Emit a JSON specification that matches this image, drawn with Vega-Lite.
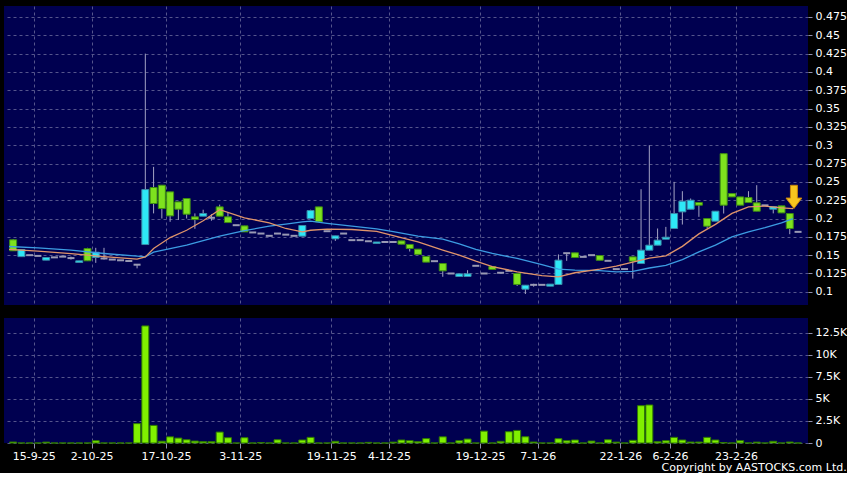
{
  "$schema": "https://vega.github.io/schema/vega-lite/v6.json",
  "background": "#000000",
  "padding": {"left": 4, "top": 6, "right": 0, "bottom": 0},
  "config": {
    "view": {"fill": "#000050", "stroke": null},
    "font": "DejaVu Sans",
    "axis": {"labelColor": "#ffffff", "labelFontSize": 11, "domain": false, "gridColor": "#55558c", "gridDash": [3, 3], "gridWidth": 1, "tickColor": "#9090b0", "labelOverlap": false}
  },
  "title": {"text": "Copyright by AASTOCKS.com Ltd.", "orient": "bottom", "anchor": "end", "color": "#ffffff", "fontSize": 11, "fontWeight": "normal", "offset": 1},
  "spacing": 13,
  "datasets": {
    "candles": [
      {"i": 0, "o": 0.171, "h": 0.172, "l": 0.156, "c": 0.156, "v": 110},
      {"i": 1, "o": 0.148, "h": 0.1577, "l": 0.148, "c": 0.1577, "v": 0},
      {"i": 2, "o": 0.15, "h": 0.15, "l": 0.15, "c": 0.15, "v": 0},
      {"i": 3, "o": 0.149, "h": 0.149, "l": 0.149, "c": 0.149, "v": 0},
      {"i": 4, "o": 0.1432, "h": 0.1468, "l": 0.1432, "c": 0.1468, "v": 100},
      {"i": 5, "o": 0.147, "h": 0.147, "l": 0.147, "c": 0.147, "v": 0},
      {"i": 6, "o": 0.148, "h": 0.148, "l": 0.148, "c": 0.148, "v": 0},
      {"i": 7, "o": 0.146, "h": 0.148, "l": 0.144, "c": 0.146, "v": 0},
      {"i": 8, "o": 0.14, "h": 0.1423, "l": 0.14, "c": 0.1423, "v": 0},
      {"i": 9, "o": 0.159, "h": 0.16, "l": 0.1423, "c": 0.1423, "v": 0},
      {"i": 10, "o": 0.1468, "h": 0.16, "l": 0.1395, "c": 0.154, "v": 260},
      {"i": 11, "o": 0.1455, "h": 0.16, "l": 0.144, "c": 0.1455, "v": 0},
      {"i": 12, "o": 0.144, "h": 0.144, "l": 0.144, "c": 0.144, "v": 0},
      {"i": 13, "o": 0.143, "h": 0.143, "l": 0.143, "c": 0.143, "v": 0},
      {"i": 14, "o": 0.142, "h": 0.142, "l": 0.142, "c": 0.142, "v": 0},
      {"i": 15, "o": 0.137, "h": 0.137, "l": 0.132, "c": 0.137, "v": 2200},
      {"i": 16, "o": 0.1645, "h": 0.425, "l": 0.1645, "c": 0.2395, "v": 13300},
      {"i": 17, "o": 0.2423, "h": 0.2705, "l": 0.207, "c": 0.2205, "v": 2000},
      {"i": 18, "o": 0.2455, "h": 0.2455, "l": 0.2, "c": 0.2136, "v": 200},
      {"i": 19, "o": 0.2364, "h": 0.2364, "l": 0.1955, "c": 0.2036, "v": 700},
      {"i": 20, "o": 0.2227, "h": 0.2227, "l": 0.198, "c": 0.2127, "v": 560},
      {"i": 21, "o": 0.2273, "h": 0.2273, "l": 0.2, "c": 0.2059, "v": 370},
      {"i": 22, "o": 0.2023, "h": 0.207, "l": 0.186, "c": 0.1986, "v": 220},
      {"i": 23, "o": 0.2032, "h": 0.212, "l": 0.2032, "c": 0.2068, "v": 150},
      {"i": 24, "o": 0.201, "h": 0.206, "l": 0.197, "c": 0.201, "v": 150},
      {"i": 25, "o": 0.2159, "h": 0.219, "l": 0.2032, "c": 0.2032, "v": 1240},
      {"i": 26, "o": 0.2023, "h": 0.209, "l": 0.1945, "c": 0.1945, "v": 600},
      {"i": 27, "o": 0.1909, "h": 0.1909, "l": 0.1909, "c": 0.1909, "v": 0},
      {"i": 28, "o": 0.19, "h": 0.19, "l": 0.1818, "c": 0.1818, "v": 600},
      {"i": 29, "o": 0.181, "h": 0.181, "l": 0.181, "c": 0.181, "v": 0},
      {"i": 30, "o": 0.1795, "h": 0.1795, "l": 0.1795, "c": 0.1795, "v": 40},
      {"i": 31, "o": 0.1764, "h": 0.1764, "l": 0.1764, "c": 0.1764, "v": 0},
      {"i": 32, "o": 0.1795, "h": 0.1795, "l": 0.1795, "c": 0.1795, "v": 370},
      {"i": 33, "o": 0.178, "h": 0.178, "l": 0.178, "c": 0.178, "v": 0},
      {"i": 34, "o": 0.1764, "h": 0.1764, "l": 0.1764, "c": 0.1764, "v": 0},
      {"i": 35, "o": 0.1759, "h": 0.1905, "l": 0.1759, "c": 0.1905, "v": 340},
      {"i": 36, "o": 0.2, "h": 0.212, "l": 0.2, "c": 0.2109, "v": 640},
      {"i": 37, "o": 0.2159, "h": 0.2159, "l": 0.1955, "c": 0.1955, "v": 0},
      {"i": 38, "o": 0.1827, "h": 0.1827, "l": 0.1827, "c": 0.1827, "v": 0},
      {"i": 39, "o": 0.1723, "h": 0.1764, "l": 0.1695, "c": 0.1764, "v": 190},
      {"i": 40, "o": 0.1795, "h": 0.1795, "l": 0.1795, "c": 0.1795, "v": 0},
      {"i": 41, "o": 0.1705, "h": 0.1705, "l": 0.1705, "c": 0.1705, "v": 0},
      {"i": 42, "o": 0.1705, "h": 0.1705, "l": 0.1705, "c": 0.1705, "v": 0},
      {"i": 43, "o": 0.169, "h": 0.169, "l": 0.169, "c": 0.169, "v": 70},
      {"i": 44, "o": 0.166, "h": 0.168, "l": 0.166, "c": 0.168, "v": 0},
      {"i": 45, "o": 0.168, "h": 0.168, "l": 0.168, "c": 0.168, "v": 0},
      {"i": 46, "o": 0.168, "h": 0.168, "l": 0.168, "c": 0.168, "v": 100},
      {"i": 47, "o": 0.1695, "h": 0.1695, "l": 0.165, "c": 0.165, "v": 340},
      {"i": 48, "o": 0.1646, "h": 0.1646, "l": 0.155, "c": 0.1591, "v": 260},
      {"i": 49, "o": 0.1582, "h": 0.1582, "l": 0.151, "c": 0.151, "v": 150},
      {"i": 50, "o": 0.1482, "h": 0.1482, "l": 0.1405, "c": 0.1405, "v": 500},
      {"i": 51, "o": 0.1418, "h": 0.1418, "l": 0.1418, "c": 0.1418, "v": 0},
      {"i": 52, "o": 0.1386, "h": 0.1386, "l": 0.1205, "c": 0.1286, "v": 700},
      {"i": 53, "o": 0.125, "h": 0.125, "l": 0.125, "c": 0.125, "v": 0},
      {"i": 54, "o": 0.1209, "h": 0.1245, "l": 0.1209, "c": 0.1245, "v": 260},
      {"i": 55, "o": 0.1209, "h": 0.1295, "l": 0.1209, "c": 0.1245, "v": 450},
      {"i": 56, "o": 0.1355, "h": 0.1355, "l": 0.1355, "c": 0.1355, "v": 0},
      {"i": 57, "o": 0.125, "h": 0.125, "l": 0.125, "c": 0.125, "v": 1350},
      {"i": 58, "o": 0.1345, "h": 0.1345, "l": 0.1305, "c": 0.1305, "v": 0},
      {"i": 59, "o": 0.126, "h": 0.126, "l": 0.126, "c": 0.126, "v": 190},
      {"i": 60, "o": 0.1286, "h": 0.1286, "l": 0.1286, "c": 0.1286, "v": 1280},
      {"i": 61, "o": 0.125, "h": 0.125, "l": 0.108, "c": 0.11, "v": 1430},
      {"i": 62, "o": 0.1036, "h": 0.109, "l": 0.097, "c": 0.109, "v": 710},
      {"i": 63, "o": 0.1095, "h": 0.111, "l": 0.107, "c": 0.1095, "v": 110},
      {"i": 64, "o": 0.1095, "h": 0.1095, "l": 0.1095, "c": 0.1095, "v": 0},
      {"i": 65, "o": 0.1077, "h": 0.1105, "l": 0.1077, "c": 0.1105, "v": 0},
      {"i": 66, "o": 0.11, "h": 0.151, "l": 0.11, "c": 0.1432, "v": 490},
      {"i": 67, "o": 0.1527, "h": 0.153, "l": 0.1423, "c": 0.1527, "v": 260},
      {"i": 68, "o": 0.1532, "h": 0.1532, "l": 0.1468, "c": 0.1468, "v": 340},
      {"i": 69, "o": 0.1477, "h": 0.1477, "l": 0.1477, "c": 0.1477, "v": 0},
      {"i": 70, "o": 0.15, "h": 0.15, "l": 0.15, "c": 0.15, "v": 220},
      {"i": 71, "o": 0.1495, "h": 0.1495, "l": 0.143, "c": 0.143, "v": 0},
      {"i": 72, "o": 0.1423, "h": 0.1423, "l": 0.1423, "c": 0.1423, "v": 370},
      {"i": 73, "o": 0.131, "h": 0.131, "l": 0.131, "c": 0.131, "v": 100},
      {"i": 74, "o": 0.131, "h": 0.131, "l": 0.131, "c": 0.131, "v": 0},
      {"i": 75, "o": 0.1477, "h": 0.1477, "l": 0.118, "c": 0.1418, "v": 300},
      {"i": 76, "o": 0.1386, "h": 0.24, "l": 0.1386, "c": 0.1568, "v": 4240},
      {"i": 77, "o": 0.1568, "h": 0.3, "l": 0.1568, "c": 0.1636, "v": 4320},
      {"i": 78, "o": 0.1636, "h": 0.1864, "l": 0.1636, "c": 0.1705, "v": 150},
      {"i": 79, "o": 0.1718, "h": 0.1886, "l": 0.1718, "c": 0.1745, "v": 260},
      {"i": 80, "o": 0.1864, "h": 0.25, "l": 0.1864, "c": 0.2068, "v": 640},
      {"i": 81, "o": 0.2091, "h": 0.2373, "l": 0.1918, "c": 0.2236, "v": 340},
      {"i": 82, "o": 0.2127, "h": 0.2273, "l": 0.2127, "c": 0.225, "v": 110},
      {"i": 83, "o": 0.2218, "h": 0.2218, "l": 0.2023, "c": 0.2182, "v": 110},
      {"i": 84, "o": 0.2, "h": 0.2, "l": 0.1864, "c": 0.1895, "v": 640},
      {"i": 85, "o": 0.1964, "h": 0.21, "l": 0.1964, "c": 0.21, "v": 340},
      {"i": 86, "o": 0.2885, "h": 0.2885, "l": 0.2068, "c": 0.2182, "v": 50},
      {"i": 87, "o": 0.2341, "h": 0.2341, "l": 0.2295, "c": 0.2295, "v": 0},
      {"i": 88, "o": 0.2295, "h": 0.2295, "l": 0.2182, "c": 0.2182, "v": 260},
      {"i": 89, "o": 0.2286, "h": 0.2373, "l": 0.2218, "c": 0.2218, "v": 0},
      {"i": 90, "o": 0.2214, "h": 0.2455, "l": 0.21, "c": 0.21, "v": 100},
      {"i": 91, "o": 0.218, "h": 0.218, "l": 0.218, "c": 0.218, "v": 0},
      {"i": 92, "o": 0.2127, "h": 0.2164, "l": 0.207, "c": 0.2164, "v": 190},
      {"i": 93, "o": 0.2173, "h": 0.2173, "l": 0.2077, "c": 0.2077, "v": 0},
      {"i": 94, "o": 0.2068, "h": 0.2068, "l": 0.1786, "c": 0.1864, "v": 110},
      {"i": 95, "o": 0.1818, "h": 0.1818, "l": 0.1818, "c": 0.1818, "v": 0}
    ],
    "ma": [
      {"i": -0.5, "ma10": 0.158, "ma20": 0.1618},
      {"i": 3, "ma10": 0.1555, "ma20": 0.16},
      {"i": 7, "ma10": 0.152, "ma20": 0.1568},
      {"i": 11, "ma10": 0.148, "ma20": 0.1523},
      {"i": 15, "ma10": 0.1445, "ma20": 0.1486},
      {"i": 16, "ma10": 0.1475, "ma20": 0.1477},
      {"i": 17, "ma10": 0.159, "ma20": 0.154},
      {"i": 19, "ma10": 0.174, "ma20": 0.159},
      {"i": 21, "ma10": 0.184, "ma20": 0.1636},
      {"i": 23, "ma10": 0.197, "ma20": 0.17},
      {"i": 25, "ma10": 0.212, "ma20": 0.176},
      {"i": 28, "ma10": 0.201, "ma20": 0.1835},
      {"i": 31, "ma10": 0.194, "ma20": 0.1895},
      {"i": 33, "ma10": 0.1864, "ma20": 0.1923},
      {"i": 35, "ma10": 0.1818, "ma20": 0.1955},
      {"i": 36, "ma10": 0.184, "ma20": 0.1964},
      {"i": 38, "ma10": 0.1855, "ma20": 0.1935},
      {"i": 41, "ma10": 0.185, "ma20": 0.1895},
      {"i": 44, "ma10": 0.1825, "ma20": 0.1858},
      {"i": 46, "ma10": 0.1765, "ma20": 0.182},
      {"i": 49, "ma10": 0.1682, "ma20": 0.176},
      {"i": 52, "ma10": 0.157, "ma20": 0.172},
      {"i": 54, "ma10": 0.15, "ma20": 0.1655},
      {"i": 56, "ma10": 0.1418, "ma20": 0.158},
      {"i": 58, "ma10": 0.1345, "ma20": 0.1523},
      {"i": 61, "ma10": 0.1273, "ma20": 0.1455},
      {"i": 64, "ma10": 0.122, "ma20": 0.137},
      {"i": 66, "ma10": 0.1205, "ma20": 0.131},
      {"i": 68, "ma10": 0.126, "ma20": 0.1295},
      {"i": 71, "ma10": 0.131, "ma20": 0.129},
      {"i": 73, "ma10": 0.135, "ma20": 0.1273},
      {"i": 75, "ma10": 0.1405, "ma20": 0.128},
      {"i": 77, "ma10": 0.146, "ma20": 0.1325},
      {"i": 79, "ma10": 0.149, "ma20": 0.136},
      {"i": 81, "ma10": 0.162, "ma20": 0.144},
      {"i": 83, "ma10": 0.179, "ma20": 0.1545},
      {"i": 85, "ma10": 0.192, "ma20": 0.1636},
      {"i": 87, "ma10": 0.207, "ma20": 0.175},
      {"i": 89, "ma10": 0.216, "ma20": 0.1818},
      {"i": 91, "ma10": 0.217, "ma20": 0.1875},
      {"i": 93, "ma10": 0.2145, "ma20": 0.194},
      {"i": 94.4, "ma10": 0.2136, "ma20": 0.2}
    ],
    "arrow": [{"i": 94.5, "p": 0.2295}]
  },
  "vconcat": [
    {
      "width": 804,
      "height": 299,
      "encoding": {
        "x": {
          "field": "i", "type": "quantitative", "title": null,
          "scale": {"domain": [-0.5, 95.6], "nice": false, "zero": false},
          "axis": {"values": [2.5, 9.5, 18.5, 27.5, 38.5, 45.5, 56.5, 63.5, 73.5, 79.5, 87.5], "labels": false, "ticks": false, "grid": true, "domain": false}
        }
      },
      "layer": [
        {
          "data": {"name": "candles"},
          "mark": {"type": "rule", "color": "#a4a4c4", "strokeWidth": 1},
          "encoding": {
            "y": {
              "field": "l", "type": "quantitative", "title": null,
              "scale": {"domain": [0.082, 0.49], "nice": false, "zero": false},
              "axis": {"orient": "right", "values": [0.1, 0.125, 0.15, 0.175, 0.2, 0.225, 0.25, 0.275, 0.3, 0.325, 0.35, 0.375, 0.4, 0.425, 0.45, 0.475], "labelExpr": "format(datum.value, '.3~f')", "grid": true, "tickSize": 4, "labelPadding": 3, "labelOverlap": false, "labelBound": false, "labelFlush": false}
            },
            "y2": {"field": "h"}
          }
        },
        {
          "data": {"name": "candles"},
          "transform": [{"filter": "datum.o != datum.c"}],
          "mark": {"type": "bar", "size": 7, "strokeWidth": 1},
          "encoding": {
            "y": {"field": "o", "type": "quantitative", "title": null, "axis": {"orient": "right", "values": [0.1, 0.125, 0.15, 0.175, 0.2, 0.225, 0.25, 0.275, 0.3, 0.325, 0.35, 0.375, 0.4, 0.425, 0.45, 0.475], "labelExpr": "format(datum.value, '.3~f')", "grid": true, "tickSize": 4, "labelPadding": 3, "labelOverlap": false, "labelBound": false, "labelFlush": false}},
            "y2": {"field": "c"},
            "fill": {"condition": {"test": "datum.c > datum.o", "value": "#2ee8f6"}, "value": "#7ee21e"},
            "stroke": {"condition": {"test": "datum.c > datum.o", "value": "#3a8aa8"}, "value": "#3e8c14"}
          }
        },
        {
          "data": {"name": "candles"},
          "transform": [{"filter": "datum.o == datum.c"}],
          "mark": {"type": "tick", "orient": "horizontal", "size": 7, "thickness": 2, "color": "#9a9ab4", "opacity": 1},
          "encoding": {"y": {"field": "c", "type": "quantitative", "title": null, "axis": {"orient": "right", "values": [0.1, 0.125, 0.15, 0.175, 0.2, 0.225, 0.25, 0.275, 0.3, 0.325, 0.35, 0.375, 0.4, 0.425, 0.45, 0.475], "labelExpr": "format(datum.value, '.3~f')", "grid": true, "tickSize": 4, "labelPadding": 3, "labelOverlap": false, "labelBound": false, "labelFlush": false}}}
        },
        {
          "data": {"name": "ma"},
          "mark": {"type": "line", "color": "#3c9ce2", "strokeWidth": 1.3},
          "encoding": {"y": {"field": "ma20", "type": "quantitative", "title": null, "axis": {"orient": "right", "values": [0.1, 0.125, 0.15, 0.175, 0.2, 0.225, 0.25, 0.275, 0.3, 0.325, 0.35, 0.375, 0.4, 0.425, 0.45, 0.475], "labelExpr": "format(datum.value, '.3~f')", "grid": true, "tickSize": 4, "labelPadding": 3, "labelOverlap": false, "labelBound": false, "labelFlush": false}}}
        },
        {
          "data": {"name": "ma"},
          "mark": {"type": "line", "color": "#e0946a", "strokeWidth": 1.3},
          "encoding": {"y": {"field": "ma10", "type": "quantitative", "title": null, "axis": {"orient": "right", "values": [0.1, 0.125, 0.15, 0.175, 0.2, 0.225, 0.25, 0.275, 0.3, 0.325, 0.35, 0.375, 0.4, 0.425, 0.45, 0.475], "labelExpr": "format(datum.value, '.3~f')", "grid": true, "tickSize": 4, "labelPadding": 3, "labelOverlap": false, "labelBound": false, "labelFlush": false}}}
        },
        {
          "data": {"name": "arrow"},
          "mark": {"type": "point", "shape": "M-0.3,-1L0.3,-1L0.3,0.1L0.68,0.1L0,1L-0.68,0.1L-0.3,0.1Z", "filled": true, "fill": "#f7c51e", "stroke": "#c8860c", "strokeWidth": 1, "size": 540, "opacity": 1},
          "encoding": {"y": {"field": "p", "type": "quantitative", "title": null, "axis": {"orient": "right", "values": [0.1, 0.125, 0.15, 0.175, 0.2, 0.225, 0.25, 0.275, 0.3, 0.325, 0.35, 0.375, 0.4, 0.425, 0.45, 0.475], "labelExpr": "format(datum.value, '.3~f')", "grid": true, "tickSize": 4, "labelPadding": 3, "labelOverlap": false, "labelBound": false, "labelFlush": false}}}
        }
      ]
    },
    {
      "width": 804,
      "height": 125,
      "data": {"name": "candles"},
      "mark": {"type": "bar", "size": 7, "fill": "#80f000", "stroke": "#2f7a00", "strokeWidth": 1},
      "encoding": {
        "x": {
          "field": "i", "type": "quantitative", "title": null,
          "scale": {"domain": [-0.5, 95.6], "nice": false, "zero": false},
          "axis": {"values": [2.5, 9.5, 18.5, 27.5, 38.5, 45.5, 56.5, 63.5, 73.5, 79.5, 87.5], "labelExpr": "['15-9-25','2-10-25','17-10-25','3-11-25','19-11-25','4-12-25','19-12-25','7-1-26','22-1-26','6-2-26','23-2-26'][indexof([2.5, 9.5, 18.5, 27.5, 38.5, 45.5, 56.5, 63.5, 73.5, 79.5, 87.5], datum.value)]", "grid": true, "tickSize": 5, "labelPadding": 2, "domain": false, "labelFlush": false, "labelOverlap": false}
        },
        "y": {
          "field": "v", "type": "quantitative", "title": null,
          "scale": {"domain": [0, 14200], "nice": false},
          "axis": {"orient": "right", "values": [0, 2500, 5000, 7500, 10000, 12500], "labelExpr": "datum.value == 0 ? '0' : (datum.value / 1000) + 'K'", "grid": true, "tickSize": 4, "labelPadding": 3, "labelOverlap": false}
        }
      }
    }
  ]
}
